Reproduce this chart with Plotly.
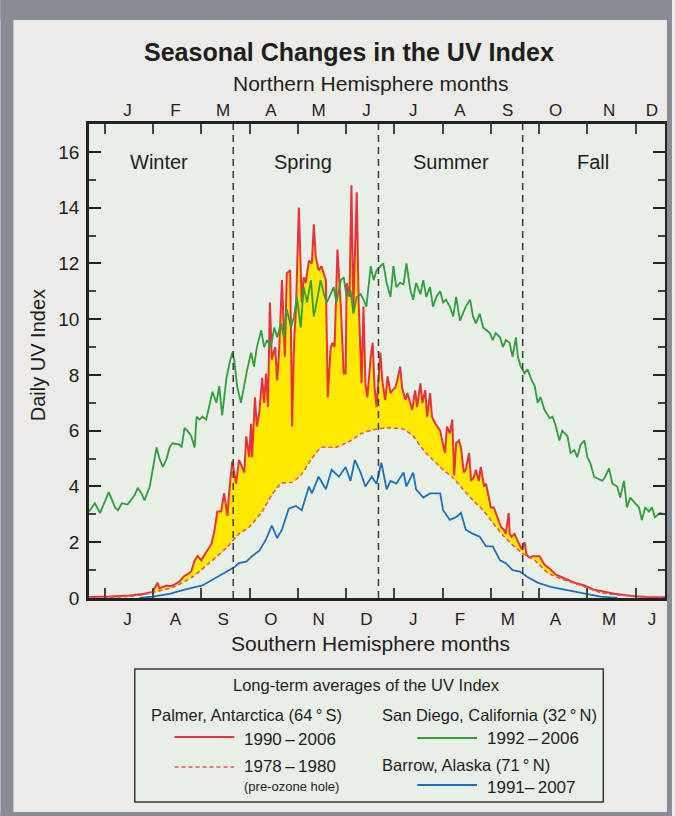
import plotly.graph_objects as go

# ---------------- data (x in months from 1 Jan, Northern-hemisphere calendar) ----------------
month_label_pos = [0.47, 1.46, 2.45, 3.44, 4.43, 5.42, 6.39, 7.36, 8.35, 9.34, 10.45, 11.34]
north_months = ["J", "F", "M", "A", "M", "J", "J", "A", "S", "O", "N", "D"]
south_months = ["J", "A", "S", "O", "N", "D", "J", "F", "M", "A", "M", "J"]
month_bounds = list(range(12))
season_lines = [2.66, 5.67, 8.66]
season_names = ["Winter", "Spring", "Summer", "Fall"]
season_pos = [1.13, 4.10, 7.18, 10.12]

# San Diego, California (32 N) 1992-2006
sd_x = [-0.33, -0.21, -0.10, 0.00, 0.08, 0.21, 0.27, 0.35, 0.47, 0.62, 0.68, 0.76, 0.82, 0.93, 0.99,
        1.07, 1.13, 1.20, 1.28, 1.34, 1.40, 1.55, 1.59, 1.65, 1.71, 1.79, 1.86, 1.90, 1.96, 2.02,
        2.10, 2.16, 2.23, 2.31, 2.37, 2.43, 2.52, 2.58, 2.64, 2.68, 2.74, 2.82, 2.89, 2.95, 3.03,
        3.09, 3.15, 3.24, 3.30, 3.36, 3.44, 3.51, 3.57, 3.65, 3.71, 3.77, 3.86, 3.92, 3.98, 4.06,
        4.12, 4.19, 4.27, 4.33, 4.39, 4.47, 4.54, 4.60, 4.68, 4.74, 4.80, 4.89, 4.95, 5.01, 5.09,
        5.15, 5.22, 5.30, 5.36, 5.42, 5.51, 5.57, 5.63, 5.71, 5.77, 5.84, 5.92, 5.98, 6.04, 6.12,
        6.19, 6.25, 6.33, 6.39, 6.45, 6.54, 6.60, 6.66, 6.74, 6.80, 6.87, 6.95, 7.01, 7.07, 7.15,
        7.22, 7.28, 7.36, 7.42, 7.48, 7.57, 7.63, 7.69, 7.77, 7.84, 7.90, 7.98, 8.04, 8.10, 8.19,
        8.25, 8.31, 8.39, 8.45, 8.52, 8.56, 8.62, 8.70, 8.76, 8.85, 8.91, 8.97, 9.03, 9.11, 9.22,
        9.28, 9.34, 9.42, 9.48, 9.59, 9.65, 9.73, 9.79, 9.86, 9.94, 10.00, 10.06, 10.14, 10.21, 10.31,
        10.37, 10.45, 10.52, 10.62, 10.68, 10.76, 10.82, 10.89, 10.99, 11.07, 11.13, 11.20, 11.28, 11.34, 11.40,
        11.51, 11.61]
sd_uv = [3.10, 3.40, 3.05, 3.45, 3.80, 3.25, 3.15, 3.40, 3.35, 3.70, 3.95, 3.75, 3.50, 4.00, 4.60,
         5.40, 5.00, 4.70, 5.00, 5.40, 5.55, 5.50, 5.40, 6.10, 6.00, 5.80, 5.40, 6.50, 6.40, 6.50,
         6.40, 6.85, 7.40, 7.00, 7.60, 6.55, 7.90, 8.40, 8.80, 8.55, 7.60, 7.00, 7.70, 8.20, 8.80,
         8.30, 9.00, 9.60, 9.00, 9.25, 9.00, 9.70, 9.35, 9.85, 9.35, 10.35, 9.70, 10.10, 10.80, 9.70,
         11.15, 10.60, 11.40, 10.10, 10.60, 11.40, 10.90, 10.60, 10.90, 11.15, 10.60, 11.40, 11.50, 10.80, 11.05,
         10.20, 10.80, 10.90, 10.70, 10.45, 11.90, 11.40, 11.75, 11.90, 12.00, 11.30, 10.80, 11.90, 11.15, 11.30,
         11.25, 12.00, 11.05, 10.70, 11.30, 10.90, 11.40, 10.80, 11.15, 10.45, 10.80, 11.00, 10.60, 10.70, 10.45,
         10.10, 10.80, 9.95, 10.20, 10.45, 10.70, 10.10, 9.85, 10.20, 9.70, 9.60, 9.50, 9.25, 9.50, 9.35,
         9.00, 9.25, 9.15, 8.65, 9.35, 8.65, 8.30, 8.05, 8.20, 7.80, 7.60, 7.00, 7.20, 6.75, 6.45,
         6.50, 6.20, 5.65, 6.00, 5.80, 5.20, 5.30, 5.05, 5.50, 5.65, 5.05, 4.85, 4.35, 4.30, 4.20,
         4.35, 4.65, 4.10, 4.00, 3.60, 4.20, 3.25, 3.60, 3.40, 3.25, 2.80, 3.25, 3.10, 3.25, 2.90,
         3.05, 3.00]

# Barrow, Alaska (71 N) 1991-2007
br_x = [0.72, 0.99, 1.34, 1.65, 2.02, 2.27, 2.52, 2.68, 2.78, 2.93, 3.05, 3.20, 3.34, 3.46, 3.57,
        3.67, 3.81, 3.96, 4.08, 4.23, 4.29, 4.43, 4.58, 4.70, 4.85, 4.99, 5.09, 5.18, 5.30, 5.40,
        5.53, 5.63, 5.73, 5.84, 5.92, 6.04, 6.19, 6.25, 6.39, 6.45, 6.60, 6.74, 6.95, 7.01, 7.15,
        7.28, 7.38, 7.48, 7.63, 7.77, 7.90, 8.04, 8.19, 8.31, 8.45, 8.60, 8.76, 8.97, 9.24, 9.59,
        9.94, 10.27, 10.62]
br_uv = [0.00, 0.05, 0.15, 0.30, 0.45, 0.70, 0.95, 1.10, 1.25, 1.30, 1.50, 1.70, 2.10, 2.60, 2.15,
         2.45, 3.20, 3.30, 3.15, 4.00, 3.75, 4.35, 3.90, 4.60, 4.35, 4.70, 4.20, 4.95, 4.50, 4.00,
         4.35, 4.10, 4.85, 3.90, 4.20, 4.10, 4.50, 4.00, 4.50, 3.90, 3.60, 3.75, 3.75, 3.15, 2.80,
         2.90, 3.05, 2.45, 2.30, 2.20, 1.85, 1.85, 1.35, 1.25, 1.00, 0.95, 0.75, 0.55, 0.40, 0.28,
         0.17, 0.05, 0.00]

# Palmer, Antarctica (64 S) 1978-1980 (pre-ozone hole)
pa_old_x = [-0.33, 0.31, 0.72, 0.99, 1.40, 1.81, 2.16, 2.52, 2.78, 2.99, 3.26, 3.46, 3.67, 3.88, 4.08,
            4.29, 4.49, 4.78, 5.05, 5.32, 5.61, 5.88, 6.19, 6.39, 6.60, 6.80, 7.01, 7.22, 7.42, 7.63,
            7.84, 8.04, 8.25, 8.45, 8.66, 8.91, 9.18, 9.44, 9.86, 10.27, 10.68, 11.24, 11.61]
pa_old_uv = [0.02, 0.04, 0.10, 0.20, 0.38, 0.75, 1.25, 1.80, 2.30, 2.55, 3.10, 3.70, 4.12, 4.15, 4.45,
             5.00, 5.40, 5.40, 5.60, 5.90, 6.05, 6.10, 6.05, 5.80, 5.30, 4.95, 4.60, 4.30, 3.90, 3.50,
             3.15, 2.70, 2.25, 1.90, 1.60, 1.35, 0.90, 0.70, 0.45, 0.20, 0.10, 0.04, 0.02]

# Palmer, Antarctica (64 S) 1990-2006
pa_new_x = [-0.33, 0.10, 0.52, 0.82, 0.99, 1.09, 1.13, 1.22, 1.28, 1.36, 1.44, 1.55, 1.65, 1.71, 1.79,
            1.86, 1.92, 2.00, 2.06, 2.10, 2.16, 2.21, 2.27, 2.33, 2.41, 2.47, 2.54, 2.58, 2.64, 2.72,
            2.78, 2.89, 2.93, 2.99, 3.03, 3.05, 3.11, 3.15, 3.20, 3.26, 3.30, 3.34, 3.38, 3.42, 3.46,
            3.53, 3.57, 3.61, 3.67, 3.73, 3.77, 3.84, 3.88, 3.92, 3.96, 4.02, 4.08, 4.12, 4.16, 4.23,
            4.29, 4.33, 4.37, 4.43, 4.49, 4.54, 4.58, 4.62, 4.68, 4.72, 4.76, 4.78, 4.82, 4.89, 4.95,
            4.99, 5.01, 5.07, 5.11, 5.15, 5.22, 5.26, 5.32, 5.36, 5.40, 5.44, 5.51, 5.55, 5.59, 5.63,
            5.67, 5.71, 5.75, 5.81, 5.86, 5.92, 5.96, 6.02, 6.06, 6.12, 6.16, 6.23, 6.27, 6.33, 6.37,
            6.43, 6.47, 6.54, 6.58, 6.64, 6.68, 6.74, 6.78, 6.85, 6.89, 6.95, 6.99, 7.05, 7.09, 7.15,
            7.20, 7.24, 7.28, 7.34, 7.38, 7.44, 7.48, 7.55, 7.59, 7.65, 7.69, 7.75, 7.79, 7.86, 7.90,
            7.96, 8.00, 8.06, 8.10, 8.16, 8.21, 8.27, 8.31, 8.37, 8.39, 8.43, 8.49, 8.54, 8.60, 8.64,
            8.70, 8.74, 8.80, 8.87, 9.01, 9.11, 9.22, 9.34, 9.53, 9.73, 9.94, 10.14, 10.56, 10.97, 11.24,
            11.61]
pa_new_uv = [0.04, 0.05, 0.09, 0.15, 0.22, 0.55, 0.35, 0.40, 0.45, 0.42, 0.48, 0.60, 0.80, 0.85, 0.95,
             1.35, 1.50, 1.35, 1.55, 1.65, 1.80, 1.95, 2.40, 3.10, 3.10, 3.75, 2.95, 3.90, 4.90, 4.10,
             4.95, 4.50, 5.80, 5.05, 6.25, 5.05, 7.20, 6.15, 6.65, 7.90, 7.00, 8.05, 6.85, 10.60, 8.55,
             9.00, 7.80, 8.80, 11.40, 8.65, 11.65, 11.75, 6.15, 9.15, 10.35, 14.00, 10.60, 11.50, 11.30, 12.10,
             12.00, 13.40, 12.25, 11.75, 11.90, 11.65, 11.40, 7.20, 9.00, 9.15, 9.00, 10.10, 12.50, 10.45, 8.05,
             8.05, 11.30, 10.80, 14.80, 10.35, 14.55, 10.60, 7.70, 10.45, 7.70, 7.20, 8.65, 9.15, 7.55, 6.85,
             8.05, 8.80, 7.80, 7.10, 7.95, 7.35, 7.45, 7.55, 7.80, 8.30, 7.55, 7.10, 7.35, 7.00, 6.75,
             7.45, 6.85, 7.70, 7.00, 7.45, 6.50, 7.35, 6.50, 6.25, 6.15, 6.00, 5.65, 5.20, 6.15, 5.90,
             6.40, 4.40, 5.55, 5.65, 5.40, 4.50, 4.60, 5.20, 4.20, 4.35, 4.60, 4.20, 4.70, 4.00, 4.10,
             3.50, 3.25, 3.25, 3.05, 2.80, 2.55, 2.45, 2.30, 3.05, 2.30, 2.20, 2.30, 2.10, 1.85, 1.75,
             2.00, 1.55, 1.45, 1.50, 1.50, 1.20, 1.05, 0.85, 0.70, 0.55, 0.45, 0.30, 0.15, 0.06, 0.04,
             0.03]

# ---------------- styling ----------------
FONT = "Liberation Sans"
TXT = "#1e1e1e"
RED = "#e8323b"
RED_DASH = "#e8555b"
GREEN = "#2f9e3b"
BLUE = "#1b70bf"
YELLOW = "#ffe900"
PLOT_BG = "#e8efe6"
PAGE_BG = "#ecebe7"
FRAME = "#878c96"

W, H = 675, 816
L, R, T, B = 89, 7, 124, 218
PW, PH = W - L - R, H - T - B


def px(xp):
    return (xp - L) / PW


def py(yp):
    return (H - B - yp) / PH


fig = go.Figure()

# pre-ozone-hole baseline (fill boundary)
fig.add_trace(go.Scatter(x=pa_old_x, y=pa_old_uv, mode="lines",
                         line=dict(color=RED_DASH, width=1.2, dash="4px,3px", shape="spline", smoothing=0.6),
                         hoverinfo="skip", showlegend=False))
# recent Palmer with yellow fill between
fig.add_trace(go.Scatter(x=pa_new_x, y=pa_new_uv, mode="lines", fill="tonexty", fillcolor=YELLOW,
                         line=dict(color=RED, width=2), showlegend=False))
# redraw dashed line on top of fill
fig.add_trace(go.Scatter(x=pa_old_x, y=pa_old_uv, mode="lines",
                         line=dict(color=RED_DASH, width=1.2, dash="4px,3px", shape="spline", smoothing=0.6),
                         hoverinfo="skip", showlegend=False))
fig.add_trace(go.Scatter(x=br_x, y=br_uv, mode="lines", line=dict(color=BLUE, width=1.8), showlegend=False))
fig.add_trace(go.Scatter(x=sd_x, y=sd_uv, mode="lines", line=dict(color=GREEN, width=1.8), showlegend=False,
                         xaxis="x2"))

xr = [-0.33, 11.61]
shapes = []
for s in season_lines:
    shapes.append(dict(type="line", xref="x", yref="paper", x0=s, x1=s, y0=0, y1=1,
                       line=dict(color="#3a3a3a", width=1.5, dash="7px,5px"), layer="above"))

# outer gray frame
for (x0, x1, y0, y1) in [(0, W, 0, 20), (0, 13, 0, H), (670, W, 0, H), (0, W, 812, H)]:
    shapes.append(dict(type="rect", xref="paper", yref="paper", x0=px(x0), x1=px(x1), y0=py(y1), y1=py(y0),
                       fillcolor=FRAME, line=dict(width=0), layer="above"))

# legend box
shapes.append(dict(type="rect", xref="paper", yref="paper", x0=px(135), x1=px(606), y0=py(802), y1=py(669),
                   fillcolor=PLOT_BG, line=dict(color="#3a3a3a", width=1.5)))
legend_lines = [(175, 235, 737, RED, "solid", 2), (175, 235, 767, RED_DASH, "4px,3px", 1.3),
                (419, 479, 738, GREEN, "solid", 2), (419, 479, 785, BLUE, "solid", 2)]
for (x0, x1, yy, c, d, w) in legend_lines:
    shapes.append(dict(type="line", xref="paper", yref="paper", x0=px(x0), x1=px(x1), y0=py(yy), y1=py(yy),
                       line=dict(color=c, width=w, dash=d)))

ann = []


def A(text, x, y, size, xanchor="center", xref="paper", yref="paper", angle=0, family=FONT):
    ann.append(dict(text=text, x=x, y=y, xref=xref, yref=yref, showarrow=False, xanchor=xanchor,
                    yanchor="middle", textangle=angle, font=dict(size=size, color=TXT, family=family)))


A("<b>Seasonal Changes in the UV Index</b>", px(350), py(52), 25, family="Liberation Sans Narrow, Liberation Sans")
A("Northern Hemisphere months", px(372), py(83), 21)
A("Southern Hemisphere months", px(372), py(643), 21)
A("Daily UV Index", px(38), py(355), 20, angle=-90)
for name, pos in zip(season_names, season_pos):
    A(name, pos, 15.65, 20, xref="x", yref="y")

th = "\u2009"
A("Long-term averages of the UV Index", px(368), py(685), 16.5)
A(f"Palmer, Antarctica (64{th}°{th}S)", px(149), py(715), 16.5, "left")
A(f"1990{th}–{th}2006", px(243), py(739), 17, "left")
A(f"1978{th}–{th}1980", px(243), py(766), 17, "left")
A("(pre-ozone hole)", px(243), py(786), 13, "left")
A(f"San Diego, California (32{th}°{th}N)", px(382), py(715), 16.5, "left")
A(f"1992{th}–{th}2006", px(487), py(738), 17, "left")
A(f"Barrow, Alaska (71{th}°{th}N)", px(382), py(765), 16.5, "left")
A(f"1991–{th}2007", px(487), py(787), 17, "left")

fig.update_layout(
    width=W, height=H,
    margin=dict(l=L, r=R, t=T, b=B, pad=0),
    paper_bgcolor=PAGE_BG, plot_bgcolor=PLOT_BG,
    showlegend=False,
    shapes=shapes, annotations=ann,
    font=dict(family=FONT, color=TXT),
    xaxis=dict(range=xr, tickvals=month_label_pos, ticktext=south_months, ticks="", ticklen=0,
               tickfont=dict(size=17, color=TXT), ticklabelstandoff=4,
               minor=dict(tickvals=month_bounds, ticks="inside", ticklen=10, tickwidth=1.5, tickcolor="#444"),
               showline=True, linecolor="#222", linewidth=2.5, mirror="ticks",
               showgrid=False, zeroline=False),
    xaxis2=dict(range=xr, overlaying="x", side="top", anchor="y", tickvals=month_label_pos,
                ticktext=north_months, ticks="", tickfont=dict(size=17, color=TXT), ticklabelstandoff=4,
                showline=False, showgrid=False, zeroline=False),
    yaxis=dict(range=[0, 17], tickvals=[0, 2, 4, 6, 8, 10, 12, 14, 16], ticks="inside", ticklen=12,
               tickwidth=1.5, tickcolor="#222", tickfont=dict(size=19, color=TXT), ticklabelstandoff=3,
               minor=dict(tickvals=[1, 3, 5, 7, 9, 11, 13, 15], ticks="inside", ticklen=7, tickwidth=1.5,
                          tickcolor="#444"),
               showline=True, linecolor="#222", linewidth=2.5, mirror="ticks",
               showgrid=False, zeroline=False),
)

fig.write_html("out.html", config={"displayModeBar": False},
               post_script="document.body.style.margin='0';document.body.style.overflow='hidden';")
